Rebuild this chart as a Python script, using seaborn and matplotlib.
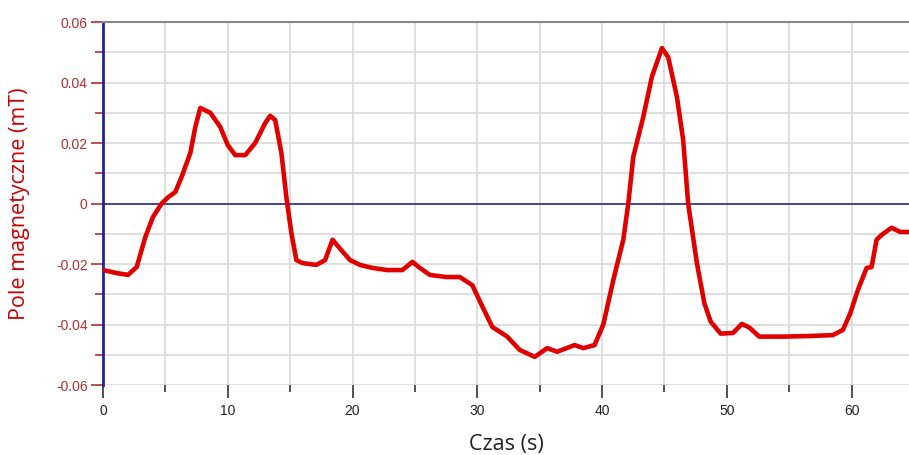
import numpy as np
import pandas as pd
import seaborn as sns
import matplotlib.pyplot as plt
from matplotlib.ticker import MultipleLocator

# czas (s) i pole magnetyczne (mT)
czas = [0.0, 1.1, 2.0, 2.7, 3.4, 4.0, 4.7, 5.2, 5.8, 6.3, 7.0, 7.4, 7.8, 8.6,
        9.4, 10.0, 10.6, 11.4, 12.2, 13.0, 13.4, 13.8, 14.3, 14.7, 15.1, 15.5,
        16.0, 17.1, 17.8, 18.4, 19.1, 19.8, 20.6, 21.6, 22.8, 24.0, 24.8, 25.4,
        26.2, 27.5, 28.6, 29.6, 30.4, 31.2, 32.4, 33.4, 34.6, 35.6, 36.4, 37.8,
        38.5, 39.4, 40.1, 40.9, 41.7, 42.1, 42.5, 43.3, 44.0, 44.8, 45.3, 46.0,
        46.5, 46.9, 47.6, 48.2, 48.7, 49.5, 50.5, 51.2, 51.8, 52.6, 54.5, 56.6,
        58.5, 59.3, 59.9, 60.5, 61.2, 61.6, 62.0, 62.4, 63.2, 63.9, 64.6]
pole = [-0.0220, -0.0230, -0.0236, -0.0210, -0.0110, -0.0045, 0.0000, 0.0020,
        0.0038, 0.0088, 0.0167, 0.0253, 0.0316, 0.0300, 0.0253, 0.0193, 0.0160,
        0.0160, 0.0200, 0.0266, 0.0290, 0.0276, 0.0167, 0.0020, -0.0098, -0.0187,
        -0.0197, -0.0203, -0.0187, -0.0120, -0.0154, -0.0187, -0.0203, -0.0213,
        -0.0220, -0.0220, -0.0193, -0.0213, -0.0236, -0.0243, -0.0243, -0.0270,
        -0.0340, -0.0408, -0.0440, -0.0484, -0.0507, -0.0478, -0.0490, -0.0468,
        -0.0478, -0.0468, -0.0400, -0.0253, -0.0120, 0.0000, 0.0154, 0.0286,
        0.0420, 0.0514, 0.0484, 0.0352, 0.0210, 0.0000, -0.0197, -0.0330,
        -0.0390, -0.0430, -0.0428, -0.0398, -0.0410, -0.0440, -0.0440, -0.0438,
        -0.0435, -0.0418, -0.0362, -0.0286, -0.0213, -0.0210, -0.0120, -0.0104,
        -0.0080, -0.0094, -0.0094]

df = pd.DataFrame({"Czas (s)": czas, "Pole magnetyczne (mT)": pole})

sns.set_style("white")
plt.rcParams['font.family'] = ['Liberation Sans', 'DejaVu Sans']

fig = plt.figure(figsize=(9.09, 4.55), dpi=100)
ax = fig.add_axes([0.1133, 0.1538, 0.8867, 0.7978])

ax.axhline(0, color='#1a1a8c', lw=1.1, zorder=2)
sns.lineplot(data=df, x="Czas (s)", y="Pole magnetyczne (mT)", ax=ax,
             color='#e00000', lw=3.3, zorder=3)

ax.set_xlim(0, 64.6)
ax.set_ylim(-0.06, 0.06)
ax.xaxis.set_major_locator(MultipleLocator(10))
ax.xaxis.set_minor_locator(MultipleLocator(5))
ax.yaxis.set_major_locator(MultipleLocator(0.02))
ax.yaxis.set_minor_locator(MultipleLocator(0.01))
ax.yaxis.set_major_formatter(plt.FuncFormatter(lambda v, p: '0' if abs(v) < 1e-9 else f'{v:.2f}'))

ax.grid(True, which='both', color='#dcdcdc', lw=1.3)
ax.set_axisbelow(True)

ax.tick_params(axis='y', which='major', length=9, width=1.2, color='#b03030',
               labelcolor='#b03030', labelsize=10, pad=2, left=True)
ax.tick_params(axis='y', which='minor', length=6, width=1.2, color='#b03030', left=True)
ax.tick_params(axis='x', which='major', length=9, width=1.2, color='#333333',
               labelcolor='#222222', labelsize=10, pad=5, bottom=True)
ax.tick_params(axis='x', which='minor', length=5, width=1.2, color='#333333', bottom=True)

for s in ['right', 'bottom']:
    ax.spines[s].set_visible(False)
ax.spines['left'].set_color('#2020a0')
ax.spines['left'].set_linewidth(2)
ax.spines['top'].set_color('#888888')
ax.spines['top'].set_linewidth(1.5)

ax.set_xlabel("Czas (s)", fontsize=15.5, color='#222222', family=['Open Sans', 'DejaVu Sans'], va='center')
ax.set_ylabel("Pole magnetyczne (mT)", fontsize=15.5, color='#cc0000', family=['Open Sans', 'DejaVu Sans'], va='center')
ax.xaxis.set_label_coords(0.5, -0.165)
ax.yaxis.set_label_coords(-0.103, 0.5)

fig.savefig("out.png", dpi=100)
